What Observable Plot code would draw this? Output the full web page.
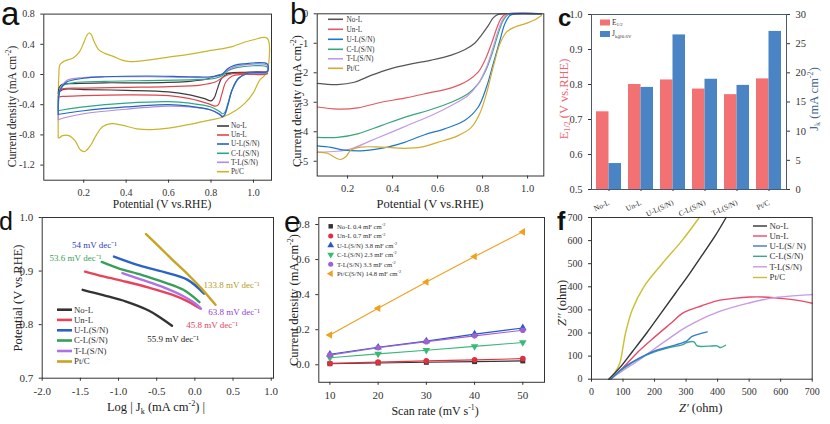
<!DOCTYPE html>
<html><head><meta charset="utf-8">
<script src="https://cdn.jsdelivr.net/npm/d3@7"></script>
<script src="https://cdn.jsdelivr.net/npm/@observablehq/plot@0.6"></script>
<style>
html,body{margin:0;padding:0;background:#fff}
#chart{position:relative;width:830px;height:424px;overflow:hidden;background:#fff}
</style>
</head><body><div id="chart"></div>
<script>
// ---------------- DATA ----------------
const seriesNames = ["No-L","Un-L","U-L(S/N)","C-L(S/N)","T-L(S/N)","Pt/C"];

// (a) CV loops [potential V, current mA cm-2]
const cvNoL = [[0.08,-0.25],[0.085,-0.17],[0.1,-0.13],[0.15,-0.12],[0.3,-0.11],[0.5,-0.11],[0.7,-0.09],[0.78,-0.06],[0.83,-0.01],[0.88,0.02],[0.95,0.03],[1.065,0.03],[1.065,0.02],[0.95,0.02],[0.88,0.01],[0.85,-0.05],[0.83,-0.19],[0.815,-0.31],[0.8,-0.35],[0.77,-0.32],[0.7,-0.27],[0.6,-0.23],[0.4,-0.21],[0.2,-0.2],[0.1,-0.2],[0.08,-0.25]];
const cvUnL = [[0.08,-0.3],[0.085,-0.22],[0.1,-0.19],[0.2,-0.18],[0.4,-0.17],[0.6,-0.16],[0.75,-0.14],[0.82,-0.1],[0.86,-0.03],[0.9,0.01],[1.0,0.02],[1.065,0.03],[1.065,0.01],[0.95,0.0],[0.9,-0.02],[0.87,-0.1],[0.85,-0.27],[0.835,-0.4],[0.82,-0.42],[0.79,-0.39],[0.7,-0.32],[0.6,-0.28],[0.4,-0.27],[0.2,-0.28],[0.1,-0.29],[0.08,-0.3]];
const cvUL = [[0.08,-0.53],[0.082,-0.3],[0.09,-0.2],[0.12,-0.1],[0.2,-0.05],[0.3,-0.03],[0.5,-0.02],[0.7,-0.03],[0.8,-0.03],[0.85,0.0],[0.88,0.08],[0.91,0.12],[0.95,0.14],[1.065,0.14],[1.065,0.04],[0.98,0.02],[0.93,-0.05],[0.9,-0.2],[0.88,-0.4],[0.865,-0.53],[0.855,-0.56],[0.84,-0.53],[0.8,-0.47],[0.7,-0.42],[0.6,-0.4],[0.4,-0.43],[0.2,-0.48],[0.1,-0.52],[0.08,-0.53]];
const cvCL = [[0.08,-0.48],[0.083,-0.25],[0.1,-0.15],[0.15,-0.11],[0.3,-0.09],[0.5,-0.08],[0.7,-0.07],[0.8,-0.06],[0.85,-0.02],[0.88,0.05],[0.92,0.09],[1.065,0.1],[1.065,0.03],[0.97,0.01],[0.93,-0.05],[0.9,-0.2],[0.88,-0.38],[0.865,-0.5],[0.855,-0.52],[0.84,-0.49],[0.8,-0.43],[0.7,-0.38],[0.6,-0.36],[0.4,-0.38],[0.2,-0.43],[0.1,-0.47],[0.08,-0.48]];
const cvTL = [[0.08,-0.6],[0.082,-0.35],[0.09,-0.2],[0.12,-0.08],[0.2,-0.04],[0.3,-0.03],[0.5,-0.03],[0.7,-0.04],[0.8,-0.04],[0.85,0.0],[0.88,0.06],[0.92,0.11],[1.065,0.12],[1.065,0.03],[0.97,0.01],[0.93,-0.05],[0.9,-0.2],[0.88,-0.4],[0.865,-0.53],[0.855,-0.55],[0.84,-0.52],[0.8,-0.47],[0.7,-0.43],[0.6,-0.42],[0.4,-0.46],[0.2,-0.52],[0.1,-0.58],[0.08,-0.6]];
const cvPtC = [[0.08,-0.84],[0.08,-0.4],[0.083,0.0],[0.088,0.13],[0.11,0.18],[0.15,0.22],[0.18,0.3],[0.2,0.42],[0.215,0.52],[0.225,0.55],[0.235,0.53],[0.25,0.43],[0.27,0.33],[0.3,0.28],[0.34,0.24],[0.38,0.19],[0.42,0.17],[0.5,0.19],[0.6,0.23],[0.7,0.27],[0.8,0.32],[0.85,0.34],[0.9,0.37],[0.95,0.42],[1.0,0.46],[1.065,0.48],[1.065,0.05],[1.05,-0.02],[1.03,-0.07],[1.0,-0.24],[0.96,-0.38],[0.92,-0.47],[0.85,-0.57],[0.8,-0.6],[0.7,-0.66],[0.6,-0.71],[0.52,-0.73],[0.45,-0.72],[0.38,-0.67],[0.33,-0.65],[0.29,-0.69],[0.26,-0.8],[0.23,-0.95],[0.205,-1.02],[0.185,-1.0],[0.16,-0.88],[0.13,-0.81],[0.1,-0.81],[0.085,-0.84],[0.08,-0.84]];

// (b) LSV curves [potential V, current mA cm-2]
const lsvNoL = [[0.066,-2.36],[0.155,-2.4],[0.23,-2.32],[0.304,-2.09],[0.393,-1.86],[0.483,-1.7],[0.572,-1.57],[0.661,-1.4],[0.72,-1.22],[0.765,-1.0],[0.795,-0.72],[0.825,-0.4],[0.847,-0.14],[0.869,-0.02],[0.9,0],[1.062,0]];
const lsvUnL = [[0.066,-3.16],[0.155,-3.23],[0.245,-3.19],[0.349,-3.0],[0.453,-2.86],[0.557,-2.69],[0.661,-2.51],[0.735,-2.26],[0.78,-1.98],[0.81,-1.58],[0.839,-1.02],[0.862,-0.51],[0.881,-0.17],[0.9,-0.02],[0.929,0],[1.062,0]];
const lsvUL = [[0.066,-4.48],[0.126,-4.53],[0.185,-4.62],[0.274,-4.64],[0.378,-4.52],[0.453,-4.36],[0.542,-4.1],[0.631,-3.9],[0.72,-3.62],[0.78,-3.17],[0.817,-2.49],[0.847,-1.7],[0.877,-0.9],[0.899,-0.34],[0.921,-0.06],[0.943,0],[1.062,0]];
const lsvCL = [[0.066,-4.19],[0.155,-4.19],[0.245,-4.07],[0.349,-3.79],[0.453,-3.51],[0.557,-3.28],[0.661,-3.0],[0.735,-2.71],[0.78,-2.38],[0.817,-1.87],[0.847,-1.24],[0.869,-0.68],[0.891,-0.23],[0.914,-0.02],[0.943,0],[1.062,0]];
const lsvTL = [[0.066,-4.69],[0.155,-4.66],[0.215,-4.58],[0.304,-4.3],[0.393,-4.02],[0.483,-3.73],[0.572,-3.45],[0.661,-3.11],[0.735,-2.77],[0.78,-2.38],[0.817,-1.81],[0.847,-1.13],[0.869,-0.57],[0.891,-0.17],[0.914,0],[1.062,0]];
const lsvPtC = [[0.066,-4.69],[0.111,-4.73],[0.148,-4.89],[0.17,-4.94],[0.193,-4.84],[0.215,-4.62],[0.259,-4.52],[0.349,-4.52],[0.453,-4.56],[0.527,-4.52],[0.601,-4.36],[0.691,-4.13],[0.75,-3.85],[0.787,-3.39],[0.817,-2.71],[0.847,-1.81],[0.877,-1.02],[0.906,-0.62],[0.943,-0.45],[0.988,-0.34],[1.033,-0.2],[1.062,-0.06]];

// (c) bars
const barCats = ["No-L","Un-L","U-L(S/N)","C-L(S/N)","T-L(S/N)","Pt/C"];
const halfWave = [0.722,0.800,0.813,0.787,0.771,0.816];       // E1/2 (V vs RHE)
const kineticJ = [4.45,17.5,26.5,18.9,17.85,27.1];            // Jk@0.6V (mA cm-2)

// (d) Tafel [log Jk, potential]
const tafNoL = [[-1.47,0.865],[-1.2,0.855],[-0.9,0.843],[-0.6,0.826],[-0.45,0.813],[-0.3,0.798]];
const tafUnL = [[-1.44,0.899],[-1.2,0.89],[-0.9,0.88],[-0.6,0.869],[-0.3,0.856],[-0.1,0.844],[0.07,0.83]];
const tafUL = [[-1.06,0.927],[-0.72,0.91],[-0.4,0.898],[-0.1,0.884],[0.12,0.858]];
const tafCL = [[-1.22,0.917],[-1.0,0.905],[-0.7,0.893],[-0.4,0.879],[-0.15,0.865],[0.06,0.842]];
const tafTL = [[-0.95,0.896],[-0.7,0.884],[-0.4,0.869],[-0.15,0.853],[0.0,0.84],[0.08,0.83]];
const tafPtC = [[-0.64,0.969],[-0.5,0.95],[-0.3,0.922],[-0.1,0.895],[0.07,0.87],[0.27,0.837]];
const tafelSlopes = [
  {x:-0.286, y:0.773, t:"55.9 mV dec⁻¹"},
  {x:0.225, y:0.800, t:"45.8 mV dec⁻¹"},
  {x:-1.315, y:0.948, t:"54 mV dec⁻¹"},
  {x:-1.564, y:0.925, t:"53.6 mV dec⁻¹"},
  {x:0.514, y:0.824, t:"63.8 mV dec⁻¹"},
  {x:0.481, y:0.873, t:"133.8 mV dec⁻¹"}
];

// (e) double layer capacitance
const scanRates = [10,20,30,40,50];
const dlNoL = [0.006,0.010,0.014,0.018,0.022];
const dlUnL = [0.008,0.015,0.022,0.028,0.035];
const dlUL = [0.060,0.100,0.135,0.175,0.210];
const dlCL = [0.040,0.062,0.083,0.105,0.127];
const dlTL = [0.055,0.097,0.132,0.165,0.197];
const dlPtC = [0.170,0.322,0.472,0.617,0.758];
const dlLabels = ["No-L 0.4 mF cm⁻²","Un-L 0.7 mF cm⁻²","U-L(S/N) 3.8 mF cm⁻²","C-L(S/N) 2.3 mF cm⁻²","T-L(S/N) 3.3 mF cm⁻²","Pt/C(S/N) 14.8 mF cm⁻²"];

// (f) Nyquist [Z', Z'']
const eisNoL = [[55,0],[90,50],[130,120],[175,200],[220,285],[265,370],[310,455],[355,545],[392,620],[427,700]];
const eisUnL = [[60,0],[100,50],[145,115],[198,180],[250,240],[293,289],[350,318],[398,339],[450,350],[504,356],[560,355],[610,349],[660,340],[700,329]];
const eisUL = [[60,0],[100,48],[150,90],[200,122],[250,142],[290,158],[303,166],[319,185],[340,195],[367,205]];
const eisCL = [[60,0],[100,45],[150,88],[200,118],[250,138],[290,150],[303,159],[325,162],[335,144],[370,143],[398,144],[409,137],[425,147]];
const eisTL = [[60,0],[100,38],[150,82],[200,132],[250,180],[300,225],[400,290],[500,330],[580,353],[650,362],[700,366]];
const eisPtC = [[55,0],[75,30],[90,70],[100,140],[108,200],[129,300],[166,400],[224,500],[287,600],[342,700]];
const eisLabels = ["No-L","Un-L","U-L(S/ N)","C-L(S/N)","T-L(S/N)","Pt/C"];

// ---------------- STYLE ----------------
const SERIF = "'Liberation Serif','Times New Roman',serif";
const SANS = "'Liberation Sans',Arial,sans-serif";
const colA = ["#3c3c3c","#e0474c","#2166c0","#2ba888","#b48ae0","#c8b52c"];
const colB = ["#555555","#e05a60","#1e78c8","#3aa57a","#c39ae8","#d4aa30"];
const colD = ["#333333","#e8435a","#2a62c8","#36a058","#b070e8","#c8a422"];
const colE = ["#333333","#e03040","#2855c8","#3ab878","#a060d0","#f0a020"];
const colF = ["#333333","#e84a6a","#3a78d0","#38a890","#c89ae0","#c8c030"];
const noteCol = ["#222222","#e8435a","#2a3ec8","#36a058","#9040d8","#b89a20"];

const root = document.getElementById("chart");
function makePlot(f, {x, y, marks, fs = 10}) {
  const svg = Plot.plot({
    width: 830, height: 424,
    marginLeft: f.L, marginRight: 830 - f.R, marginTop: f.T, marginBottom: 424 - f.B,
    x, y, marks,
    style: {background: "transparent", fontFamily: SERIF, fontSize: fs + "px", color: "#333", overflow: "visible"}
  });
  svg.style.position = "absolute"; svg.style.left = "0px"; svg.style.top = "0px";
  root.appendChild(svg);
  return svg;
}
function rich(svg, str, o) {
  const t = d3.select(svg).append("text")
    .attr("transform", `translate(${o.x},${o.y}) rotate(${o.rotate || 0})`)
    .attr("text-anchor", o.anchor || "middle")
    .attr("font-family", o.family || SERIF)
    .attr("font-size", o.size)
    .attr("font-weight", o.weight || "normal")
    .attr("fill", o.fill || "#222")
    .style("white-space", "pre");
  const tokens = str.split(/(\^\{[^}]*\}|_\{[^}]*\}|\*\{[^}]*\})/).filter(s => s);
  let shift = 0;
  for (const tk of tokens) {
    let kind = null, txt = tk;
    if (/^[\^_*]\{/.test(tk)) { kind = tk[0]; txt = tk.slice(2, -1); }
    const target = kind === "^" ? -0.38 * o.size : kind === "_" ? 0.22 * o.size : 0;
    const sp = t.append("tspan").text(txt).attr("dy", target - shift);
    shift = target;
    if (kind === "^" || kind === "_") sp.attr("font-size", o.size * 0.65);
    if (kind === "*") sp.attr("font-style", "italic");
  }
  return t;
}
function lineLegend(svg, labels, colors, o) {
  const g = d3.select(svg).append("g");
  labels.forEach((lab, i) => {
    g.append("line").attr("x1", o.x1).attr("x2", o.x2).attr("y1", o.ys[i]).attr("y2", o.ys[i])
      .attr("stroke", colors[i]).attr("stroke-width", o.sw);
    rich(svg, lab, {x: o.tx, y: o.ys[i] + o.size * 0.33, size: o.size, anchor: "start", fill: o.fill || "#333"});
  });
}
const fmt1 = d => d.toFixed(1);
const xy = {x: d => d[0], y: d => d[1]};

// ---------------- (a) ----------------
const fa = {L: 43.3, R: 271, T: 13.6, B: 179.7};
const cvAll = [cvPtC, cvNoL, cvUnL, cvCL, cvTL, cvUL];
const cvIdx = [5, 0, 1, 3, 4, 2];
const svgA = makePlot(fa, {
  x: {domain: [0.012, 1.085], ticks: [0.2,0.4,0.6,0.8,1.0], tickFormat: fmt1, tickSize: 3, label: null},
  y: {domain: [-1.4, 0.8], ticks: [-1.2,-0.8,-0.4,0,0.4,0.8], tickFormat: fmt1, tickSize: 3, label: null},
  marks: [
    ...cvAll.map((s, k) => Plot.line(s, {...xy, stroke: colA[cvIdx[k]], strokeWidth: 1.2, curve: "catmull-rom"})),
    Plot.frame({stroke: "#333"})
  ],
  fs: 10
});
rich(svgA, "Current density (mA cm^{-2})", {x: 15.5, y: 106.5, rotate: -90, size: 11.5});
rich(svgA, "Potential (V vs.RHE)", {x: 162, y: 207.5, size: 11.5});
lineLegend(svgA, seriesNames, colA, {x1: 217, x2: 229, tx: 231, ys: [126,135,144,153.3,162.3,171.7], size: 7.3, sw: 1.6});
rich(svgA, "a", {x: 1, y: 25, size: 33, family: SANS, anchor: "start", fill: "#111"});

// ---------------- (b) ----------------
const fb = {L: 316.7, R: 543.3, T: 13.3, B: 175.5};
const lsvAll = [lsvNoL, lsvUnL, lsvCL, lsvTL, lsvUL, lsvPtC];
const lsvIdx = [0, 1, 3, 4, 2, 5];
const svgB = makePlot(fb, {
  x: {domain: [0.065, 1.072], ticks: [0.2,0.4,0.6,0.8,1.0], tickFormat: fmt1, tickSize: 3, label: null},
  y: {domain: [-5.5, 0], ticks: [-5,-4,-3,-2,-1,0], tickFormat: d => String(d), tickSize: 3, label: null},
  marks: [
    ...lsvAll.map((s, k) => Plot.line(s, {...xy, stroke: colB[lsvIdx[k]], strokeWidth: 1.2, curve: "catmull-rom"})),
    Plot.frame({stroke: "#333"})
  ],
  fs: 10.5
});
rich(svgB, "Current density (mA cm^{-2})", {x: 300.5, y: 101, rotate: -90, size: 12.5});
rich(svgB, "Potential (V vs.RHE)", {x: 430, y: 207.5, size: 12.5});
lineLegend(svgB, seriesNames, colB, {x1: 328, x2: 343, tx: 346.5, ys: [19.3,29.3,39.3,49.3,58.8,68.3], size: 7.3, sw: 1.6});
rich(svgB, "b", {x: 290, y: 24, size: 30, family: SANS, anchor: "start", fill: "#111"});

// ---------------- (c) ----------------
const fc = {L: 591, R: 786, T: 14, B: 189};
const barRows = barCats.map((c, i) => ({c, e: halfWave[i], j: kineticJ[i]}));
const bandX = {domain: barCats, paddingInner: 0.224, paddingOuter: 0.14, tickSize: 2, tickRotate: -25, label: null};
const svgC1 = makePlot(fc, {
  x: bandX,
  y: {domain: [0.5, 1.0], ticks: [0.5,0.6,0.7,0.8,0.9,1.0], tickFormat: fmt1, tickSize: 3, label: null},
  marks: [Plot.barY(barRows, {x: "c", y1: () => 0.5, y2: "e", fill: "#f27274", insetRight: 12.5})],
  fs: 10.5
});
d3.select(svgC1).selectAll("g[aria-label='x-axis tick label'] text, g[aria-label='x-axis'] text").attr("font-size", 7.5);
const svgC2 = makePlot(fc, {
  x: {...bandX, axis: null},
  y: {domain: [0, 30], ticks: [0,5,10,15,20,25,30], axis: "right", tickSize: 3, label: null},
  marks: [
    Plot.barY(barRows, {x: "c", y1: () => 0, y2: "j", fill: "#4a84c4", insetLeft: 12.5}),
    Plot.frame({stroke: "#4a5870"})
  ],
  fs: 10.5
});
rich(svgC2, "E_{1/2} (V vs.RHE)", {x: 567.5, y: 99, rotate: -90, size: 12.5, fill: "#f0646e"});
rich(svgC2, "J_{k} (mA cm^{-2})", {x: 817.5, y: 99, rotate: -90, size: 12.5, fill: "#45668e"});
{
  const g = d3.select(svgC2);
  g.append("rect").attr("x", 600).attr("y", 19.5).attr("width", 10).attr("height", 6).attr("fill", "#f27274");
  g.append("rect").attr("x", 600).attr("y", 31).attr("width", 10).attr("height", 6).attr("fill", "#4a84c4");
  rich(svgC2, "E_{1/2}", {x: 612, y: 24.5, size: 7.5, anchor: "start", fill: "#333"});
  rich(svgC2, "J_{k@0.6V}", {x: 612, y: 36, size: 7.5, anchor: "start", fill: "#333"});
}
rich(svgC2, "c", {x: 558, y: 25.5, size: 24, family: SANS, weight: "bold", anchor: "start", fill: "#111"});

// ---------------- (d) ----------------
const fd = {L: 41.7, R: 273, T: 217, B: 377.7};
const tafAll = [tafNoL, tafUnL, tafCL, tafTL, tafUL, tafPtC];
const tafIdx = [0, 1, 3, 4, 2, 5];
const svgD = makePlot(fd, {
  x: {domain: [-2, 1.03], ticks: [-2,-1.5,-1,-0.5,0,0.5,1], tickFormat: fmt1, tickSize: 3, label: null},
  y: {domain: [0.7, 1.0], ticks: [0.7,0.8,0.9,1.0], tickFormat: fmt1, tickSize: 3, label: null},
  marks: [
    ...tafAll.map((s, k) => Plot.line(s, {...xy, stroke: colD[tafIdx[k]], strokeWidth: 2.4, curve: "catmull-rom"})),
    ...tafelSlopes.map((n, i) => Plot.text([n], {x: "x", y: "y", text: "t", fill: noteCol[i], fontSize: 9})),
    Plot.frame({stroke: "#333"})
  ],
  fs: 11
});
rich(svgD, "Potential (V vs.RHE)", {x: 21.8, y: 298, rotate: -90, size: 12.5});
rich(svgD, "Log | J_{k} (mA cm^{-2}) |", {x: 156, y: 411, size: 12.5});
lineLegend(svgD, seriesNames, colD, {x1: 57, x2: 72, tx: 74, ys: [309.7,319.9,330.3,340.5,351,361.5], size: 8.8, sw: 2.6});
rich(svgD, "d", {x: -1, y: 230, size: 25, family: SANS, anchor: "start", fill: "#111"});

// ---------------- (e) ----------------
const fe = {L: 318.3, R: 544, T: 217, B: 381.8};
const sqrt3 = Math.sqrt(3);
const triDown = {draw(ctx, size) { const y = -Math.sqrt(size / (sqrt3 * 3)); ctx.moveTo(0, -y * 2); ctx.lineTo(-sqrt3 * y, y); ctx.lineTo(sqrt3 * y, y); ctx.closePath(); }};
const triLeft = {draw(ctx, size) { const y = -Math.sqrt(size / (sqrt3 * 3)); ctx.moveTo(y * 2, 0); ctx.lineTo(-y, -sqrt3 * y); ctx.lineTo(-y, sqrt3 * y); ctx.closePath(); }};
const dlAll = [dlNoL, dlUnL, dlUL, dlCL, dlTL, dlPtC];
const dlSym = ["square", "circle", "triangle", triDown, "circle", triLeft];
const dlRows = dlAll.map(vals => scanRates.map((r, i) => ({r, v: vals[i]})));
const svgE = makePlot(fe, {
  x: {domain: [7.7, 54.5], ticks: [10,20,30,40,50], tickSize: 3, label: null},
  y: {domain: [-0.1, 0.84], ticks: [0,0.2,0.4,0.6,0.8], tickFormat: fmt1, tickSize: 3, label: null},
  marks: [
    ...dlRows.map((rows, i) => Plot.line(rows, {x: "r", y: "v", stroke: colE[i], strokeWidth: 1.1})),
    ...dlRows.map((rows, i) => Plot.dot(rows, {x: "r", y: "v", fill: colE[i], symbol: dlSym[i], r: 2.8, stroke: "none"})),
    Plot.frame({stroke: "#333"})
  ],
  fs: 11
});
rich(svgE, "Current density (mA cm^{-2})", {x: 297.7, y: 300, rotate: -90, size: 12.5});
rich(svgE, "Scan rate (mV s^{-1})", {x: 435, y: 415, size: 12});
{
  const ys = [226.3,236,245.3,254.7,264.3,273.7];
  const g = d3.select(svgE).append("g");
  dlLabels.forEach((lab, i) => {
    const typ = typeof dlSym[i] === "string" ? {square: d3.symbolSquare, circle: d3.symbolCircle, triangle: d3.symbolTriangle}[dlSym[i]] : dlSym[i];
    g.append("path").attr("d", d3.symbol(typ, 20)()).attr("transform", `translate(330.7,${ys[i]})`).attr("fill", colE[i]);
    rich(svgE, lab.replace("⁻²", "^{-2}"), {x: 337, y: ys[i] + 2.2, size: 6.7, anchor: "start", fill: "#333"});
  });
}
rich(svgE, "e", {x: 284, y: 232, size: 30, family: SANS, anchor: "start", fill: "#111"});

// ---------------- (f) ----------------
const ff = {L: 591, R: 811.7, T: 217, B: 378.7};
const eisAll = [eisPtC, eisNoL, eisUnL, eisTL, eisCL, eisUL];
const eisIdx = [5, 0, 1, 4, 3, 2];
const svgF = makePlot(ff, {
  x: {domain: [0, 700], ticks: [0,100,200,300,400,500,600,700], tickSize: 3, label: null},
  y: {domain: [0, 700], ticks: [0,100,200,300,400,500,600,700], tickSize: 3, label: null},
  marks: [
    ...eisAll.map((s, k) => Plot.line(s, {...xy, stroke: colF[eisIdx[k]], strokeWidth: 1.4, curve: "catmull-rom"})),
    Plot.frame({stroke: "#333"})
  ],
  fs: 10
});
rich(svgF, "*{Z′′} (ohm)", {x: 566, y: 303, rotate: -90, size: 12.5});
rich(svgF, "*{Z′} (ohm)", {x: 700.7, y: 412, size: 12.5});
lineLegend(svgF, eisLabels, colF, {x1: 753, x2: 767, tx: 769.5, ys: [226,236,246,256.3,266.8,277.5], size: 8.8, sw: 1.4});
rich(svgF, "f", {x: 557, y: 230, size: 25, family: SANS, weight: "bold", anchor: "start", fill: "#111"});
</script>
</body></html>
